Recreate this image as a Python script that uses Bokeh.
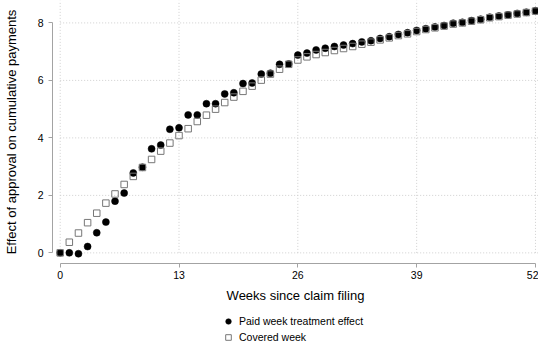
from bokeh.plotting import figure
from bokeh.layouts import column
from bokeh.models import Range1d, Legend, LegendItem, FixedTicker
from bokeh.embed import file_html
from bokeh.resources import INLINE

# Weeks since the claim was filed
weeks = list(range(53))

# Estimated effect of approval on cumulative payments, by week
paid_effect = [
    0.00, 0.00, -0.03, 0.22, 0.70, 1.07, 1.80, 2.08, 2.78, 2.98,
    3.62, 3.75, 4.30, 4.35, 4.80, 4.80, 5.19, 5.19, 5.53, 5.57,
    5.89, 5.91, 6.22, 6.25, 6.56, 6.57, 6.88, 6.95, 7.06, 7.12,
    7.18, 7.23, 7.28, 7.34, 7.38, 7.46, 7.52, 7.60, 7.66, 7.74,
    7.80, 7.86, 7.91, 7.99, 8.02, 8.08, 8.13, 8.20, 8.24, 8.28,
    8.33, 8.37, 8.42,
]
covered_week = [
    0.00, 0.37, 0.69, 1.05, 1.38, 1.73, 2.05, 2.38, 2.66, 2.97,
    3.25, 3.54, 3.82, 4.08, 4.32, 4.57, 4.79, 5.00, 5.23, 5.42,
    5.62, 5.80, 6.01, 6.22, 6.39, 6.56, 6.71, 6.82, 6.90, 6.97,
    7.04, 7.11, 7.18, 7.26, 7.33, 7.41, 7.48, 7.56, 7.62, 7.70,
    7.77, 7.83, 7.89, 7.96, 8.00, 8.06, 8.11, 8.18, 8.22, 8.27,
    8.31, 8.36, 8.41,
]

series_labels = ["Paid week treatment effect", "Covered week"]

x_ticks = [0, 13, 26, 39, 52]
y_ticks = [0, 2, 4, 6, 8]

X_START, X_END = -0.84, 52.33
Y_START, Y_END = -0.37, 8.78

FONT = "Liberation Sans"
AXIS_GREY = "#a3a3a3"
GRID_GREY = "#cfcfcf"

CIRCLE_STYLE = dict(marker="circle", size=7, fill_color="black",
                    line_color="black", line_width=0.5)
SQUARE_STYLE = dict(marker="square", size=6.5, fill_color=None,
                    line_color="#777777", line_width=1)

p = figure(
    width=538, height=305,
    output_backend="svg", toolbar_location=None,
    x_range=Range1d(X_START, X_END), y_range=Range1d(Y_START, Y_END),
    min_border_left=51, min_border_right=0, min_border_top=0, min_border_bottom=42,
)
p.outline_line_color = None
p.xgrid.visible = False
p.ygrid.visible = False

# Dotted grid spanning the plot region from the first tick outward
p.segment(x0=[x_ticks[0]] * len(y_ticks), y0=y_ticks,
          x1=[X_END] * len(y_ticks), y1=y_ticks,
          line_color=GRID_GREY, line_width=1, line_dash="1 2")
p.segment(x0=x_ticks, y0=[y_ticks[0]] * len(x_ticks),
          x1=x_ticks, y1=[Y_END] * len(x_ticks),
          line_color=GRID_GREY, line_width=1, line_dash="1 2")

p.scatter(weeks, paid_effect, **CIRCLE_STYLE)
p.scatter(weeks, covered_week, **SQUARE_STYLE)

for ax, ticks, bounds in ((p.xaxis[0], x_ticks, (0, 52)), (p.yaxis[0], y_ticks, (0, 8))):
    ax.ticker = FixedTicker(ticks=ticks)
    ax.bounds = bounds
    ax.axis_line_color = AXIS_GREY
    ax.major_tick_line_color = AXIS_GREY
    ax.minor_tick_line_color = None
    ax.major_tick_out = 4
    ax.major_tick_in = 0
    ax.major_label_text_font = FONT
    ax.major_label_text_font_size = "10.5px"
    ax.major_label_text_color = "black"
    ax.axis_label_text_font = FONT
    ax.axis_label_text_font_size = "13px"
    ax.axis_label_text_font_style = "normal"
    ax.axis_label_text_color = "black"

p.xaxis.axis_label = "Weeks since claim filing"
p.xaxis.major_label_standoff = 3
p.xaxis.axis_label_standoff = 6
p.yaxis.axis_label = "Effect of approval on cumulative payments"
p.yaxis.major_label_standoff = 5
p.yaxis.major_label_orientation = "horizontal"
p.yaxis.axis_label_standoff = 16

# Legend strip under the chart; key glyphs are slightly smaller versions of
# the scatter markers (placeholder renderers hold a single NaN so they never
# draw in the strip itself)
key = figure(
    width=538, height=42,
    output_backend="svg", toolbar_location=None,
    x_axis_type=None, y_axis_type=None,
    x_range=Range1d(0, 1), y_range=Range1d(0, 1),
    min_border_left=0, min_border_right=0, min_border_top=0, min_border_bottom=0,
)
key.outline_line_color = None
key.xgrid.visible = False
key.ygrid.visible = False
nan = float("nan")
paid_key = key.scatter([nan], [nan], **{**CIRCLE_STYLE, "size": 6})
covered_key = key.scatter([nan], [nan], **{**SQUARE_STYLE, "size": 5})

legend = Legend(
    items=[LegendItem(label=series_labels[0], renderers=[paid_key]),
           LegendItem(label=series_labels[1], renderers=[covered_key])],
    location=(169, 2), orientation="vertical",
    border_line_color=None, background_fill_alpha=0,
    glyph_width=14, glyph_height=14, label_height=16, spacing=0,
    label_standoff=4, padding=2, margin=0,
    label_text_font=FONT, label_text_font_size="10.5px", label_text_color="black",
)
key.add_layout(legend, "center")

open("out.html", "w").write(file_html(column(p, key, spacing=0), INLINE))
